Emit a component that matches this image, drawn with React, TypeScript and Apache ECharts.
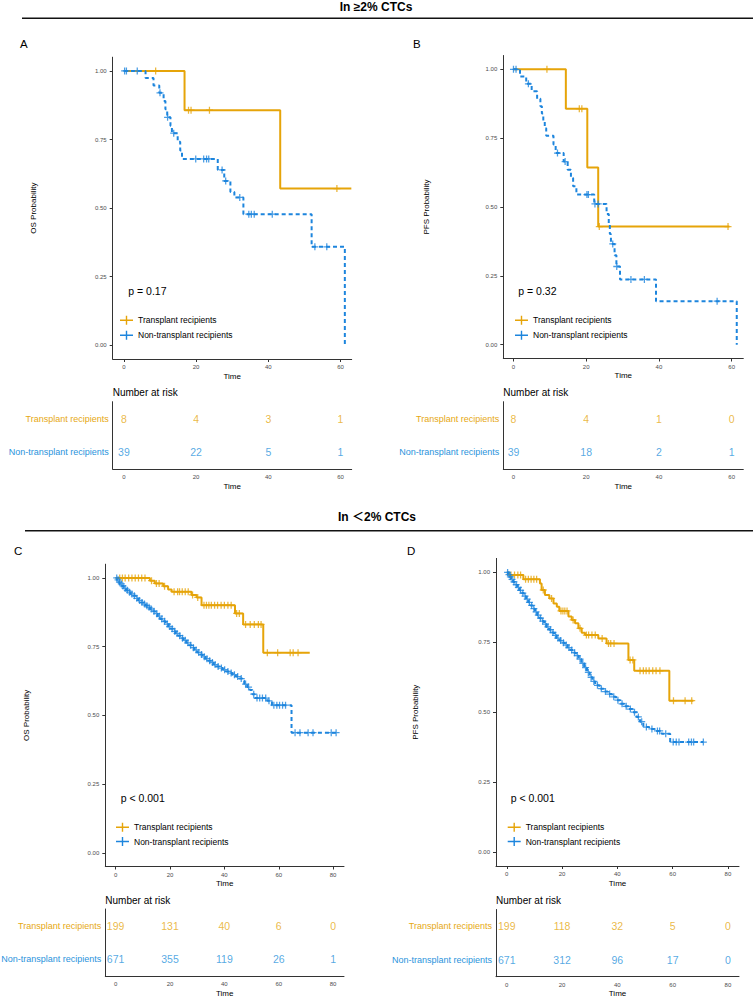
import React, { useEffect, useRef } from "react";
import * as echarts from "echarts";

const FONT = "'Liberation Sans', Arial, sans-serif";
const LINE_ORANGE = "#E6A409";
const LINE_BLUE = "#1D85DD";
const TEXT_ORANGE = "#E6A812";
const TEXT_BLUE = "#2A93DC";

const GROUPS = ["Transplant recipients", "Non-transplant recipients"];
const Y_TICKS = [0, 0.25, 0.5, 0.75, 1];
const X_TICKS_TOP = [0, 20, 40, 60];
const X_TICKS_BOTTOM = [0, 20, 40, 60, 80];

// Kaplan-Meier steps: [time, survival after the event]; censor times separately
// A: OS, >=2% CTCs
const A_TX_STEPS = [[0, 1], [16.8, 0.857], [43.3, 0.571], [63, 0.571]];
const A_TX_CENSOR = [8.8, 17.9, 18.6, 23.7, 59];
const A_NT_STEPS = [
  [0, 1], [6, 0.974], [8.2, 0.947], [9.8, 0.92], [11, 0.89], [11.5, 0.86], [12, 0.831],
  [12.9, 0.8], [13.3, 0.773], [14.9, 0.742], [15.6, 0.71], [16.1, 0.679], [26, 0.639],
  [27.8, 0.599], [29.5, 0.559], [30.6, 0.539], [33.1, 0.478], [52, 0.359], [61.2, 0],
];
const A_NT_CENSOR = [0.2, 0.7, 3.7, 10.0, 12.1, 13.8, 19.9, 22.1, 22.9, 23.5, 27.2, 28.2, 32.1, 34.6, 35.3, 36.1, 41.1, 52.9, 56.2];

// B: PFS, >=2% CTCs
const B_TX_STEPS = [[0, 1], [14.4, 0.857], [20.3, 0.643], [23.3, 0.429], [59.4, 0.429]];
const B_TX_CENSOR = [9.2, 18.1, 18.8, 23.6, 59];
const B_NT_STEPS = [
  [0, 1], [1.8, 0.974], [3.5, 0.947], [5, 0.92], [6.5, 0.893], [7.4, 0.866], [7.8, 0.839],
  [8.2, 0.812], [8.6, 0.786], [9.0, 0.759], [11, 0.727], [11.6, 0.696], [13.8, 0.665],
  [14.9, 0.635], [15.8, 0.605], [16.4, 0.575], [17.3, 0.545], [22.2, 0.511], [25.6, 0.475],
  [26.2, 0.438], [26.5, 0.402], [26.8, 0.366], [27.8, 0.325], [28.3, 0.284], [29.3, 0.237],
  [39.2, 0.158], [61.4, 0],
];
const B_NT_CENSOR = [0, 0.7, 4.1, 12.1, 14.2, 20.2, 20.6, 22.4, 23.3, 27.3, 28.4, 32.3, 36, 56];

// C: OS, <2% CTCs
const C_TX_STEPS = [
  [0, 1], [12.6, 0.99], [14.4, 0.98], [17.5, 0.97], [19.3, 0.958], [20.6, 0.95], [27.9, 0.938],
  [29.8, 0.929], [31.6, 0.901], [43.9, 0.871], [46.9, 0.831], [54.3, 0.728], [71.4, 0.728],
];
const C_TX_CENSOR = [
  1.5, 2.5, 3.5, 4.8, 6, 7.2, 8.4, 9.6, 10.8, 13.2, 15, 16, 18, 21.5, 22.8, 23.5, 24.5, 25.6,
  26.7, 28.3, 30.2, 32.5, 33.4, 34.3, 35.2, 36.4, 37.5, 38.8, 40, 41.3, 42.5, 44.5, 45.5, 47.8,
  49.5, 51, 52.5, 53.5, 55.8, 59.6, 64.2, 65.3, 67.1,
];
const C_NT_STEPS = [
  [0, 1], [0.5, 0.993], [1, 0.985], [1.5, 0.978], [2.2, 0.971], [3, 0.962], [3.8, 0.955],
  [4.6, 0.948], [5.5, 0.942], [6.5, 0.935], [7.4, 0.926], [8.3, 0.918], [9.2, 0.911],
  [10.1, 0.905], [11, 0.899], [11.8, 0.893], [12.6, 0.887], [13.5, 0.879], [14.5, 0.87],
  [15.5, 0.861], [16.4, 0.851], [17.4, 0.842], [18.4, 0.832], [19.4, 0.823], [20.3, 0.815],
  [21.2, 0.806], [22.1, 0.798], [23, 0.79], [24, 0.781], [25, 0.773], [26, 0.764], [27, 0.755],
  [28, 0.746], [29, 0.738], [30, 0.729], [31, 0.721], [32, 0.713], [33, 0.706], [34, 0.699],
  [35, 0.692], [36, 0.685], [37, 0.678], [38.2, 0.672], [39.4, 0.666], [40.6, 0.66],
  [41.8, 0.654], [43, 0.648], [44.2, 0.641], [45.5, 0.634], [46.6, 0.626], [47.3, 0.614],
  [48.4, 0.603], [49.4, 0.592], [50.3, 0.577], [51.2, 0.563], [55.8, 0.553], [57.5, 0.537],
  [64.7, 0.437], [81.8, 0.437],
];
const C_NT_CENSOR = [
  0.4, 0.9, 1.4, 2.1, 2.7, 3.5, 4.3, 5.1, 6, 6.9, 7.8, 8.8, 9.7, 10.6, 11.5, 12.3, 13.1, 14.1,
  15.1, 16.1, 17, 18, 19, 19.9, 20.8, 21.7, 22.6, 23.6, 24.6, 25.6, 26.6, 27.6, 28.6, 29.6,
  30.6, 31.6, 32.6, 33.6, 34.6, 35.6, 36.6, 37.7, 38.9, 40.1, 41.3, 42.5, 43.7, 44.9, 46.2,
  47.8, 48.9, 50.8, 52, 53, 54, 55.2, 56.4, 58.2, 59.3, 60.3, 61.4, 62.5, 66, 67.8, 70.8,
  72.6, 79.3, 81.1,
];

// D: PFS, <2% CTCs
const D_TX_STEPS = [
  [0, 1], [0.8, 0.991], [6, 0.975], [12, 0.96], [12.6, 0.937], [13.8, 0.919], [15.4, 0.907],
  [16.9, 0.889], [18.1, 0.877], [19, 0.862], [22.3, 0.842], [23.5, 0.83], [24.7, 0.818],
  [25.9, 0.8], [27.1, 0.784], [28.3, 0.776], [33.1, 0.764], [36.1, 0.746], [44, 0.687],
  [46.1, 0.648], [58.8, 0.541], [67.5, 0.541],
];
const D_TX_CENSOR = [
  1.5, 2.8, 4, 5, 6.8, 7.8, 8.8, 9.8, 10.8, 13.2, 16.2, 19.6, 20.3, 21, 21.8, 24, 26.5, 28.8,
  29.6, 30.8, 32, 34.5, 36.8, 37.6, 38.8, 44.6, 45.6, 48.2, 49.4, 50.4, 51.5, 52.8, 54, 55.4,
  60.3, 64.5, 66.9,
];
const D_NT_STEPS = [
  [0, 1], [0.5, 0.992], [1, 0.984], [1.6, 0.975], [2.3, 0.966], [3, 0.956], [3.8, 0.946],
  [4.6, 0.936], [5.4, 0.926], [6.2, 0.915], [7, 0.904], [7.8, 0.893], [8.6, 0.882],
  [9.4, 0.87], [10.2, 0.859], [11, 0.847], [11.8, 0.836], [12.6, 0.826], [13.5, 0.815],
  [14.4, 0.805], [15.3, 0.795], [16.2, 0.785], [17.1, 0.775], [18, 0.765], [19, 0.756],
  [20, 0.748], [21, 0.74], [22, 0.731], [23, 0.722], [24, 0.713], [25, 0.702], [26, 0.69],
  [27, 0.675], [28, 0.659], [29, 0.642], [30, 0.625], [31, 0.61], [32, 0.596], [33.5, 0.584],
  [35, 0.574], [36.5, 0.565], [38, 0.555], [39.5, 0.543], [41, 0.53], [42.5, 0.521],
  [44, 0.511], [45.5, 0.5], [47, 0.483], [48.2, 0.466], [49.4, 0.447], [51.5, 0.44],
  [53.5, 0.433], [56, 0.423], [59.1, 0.393], [71.1, 0.393],
];
const D_NT_CENSOR = [
  0.3, 0.8, 1.3, 1.9, 2.6, 3.4, 4.2, 5, 5.8, 6.6, 7.4, 8.2, 9, 9.8, 10.6, 11.4, 12.2, 13, 14,
  14.9, 15.8, 16.7, 17.6, 18.5, 19.5, 20.5, 21.5, 22.5, 23.5, 24.5, 25.5, 26.5, 27.5, 28.5,
  29.5, 30.5, 31.5, 32.8, 34.2, 35.7, 37.2, 38.7, 40.2, 41.7, 43.2, 44.7, 46.2, 47.6, 48.8,
  50.5, 52.5, 54.5, 55.3, 57.5, 60.2, 61.3, 62.3, 65.8, 66.8, 67.6, 71.1,
];

// Number at risk
const RISK_TIMES_TOP = [0, 20, 40, 60];
const RISK_TIMES_BOTTOM = [0, 20, 40, 60, 80];
const A_RISK_TX = [8, 4, 3, 1];
const A_RISK_NT = [39, 22, 5, 1];
const B_RISK_TX = [8, 4, 1, 0];
const B_RISK_NT = [39, 18, 2, 1];
const C_RISK_TX = [199, 131, 40, 6, 0];
const C_RISK_NT = [671, 355, 119, 26, 1];
const D_RISK_TX = [199, 118, 32, 5, 0];
const D_RISK_NT = [671, 312, 96, 17, 0];

const PLUS = "path://M0,4.1H10V5.9H0Z M4.1,0H5.9V10H4.1Z";
const LEGEND_ICON = "path://M0,4.3H13V5.7H0Z M5.8,0.5H7.2V9.5H5.8Z";

const PANELS = [
  {
    letter: "A", yName: "OS Probability", pText: "p = 0.17", xTicks: X_TICKS_TOP, riskTimes: RISK_TIMES_TOP,
    tx: A_TX_STEPS, txCensor: A_TX_CENSOR, nt: A_NT_STEPS, ntCensor: A_NT_CENSOR,
    riskTx: A_RISK_TX, riskNt: A_RISK_NT,
    km: [112.7, 57.2, 239, 301.8], xRange: [-3.1, 63.1], risk: [112.7, 401.7, 239, 67.3],
    letterPos: [20, 44], pPos: [128.3, 290.7], legendPos: [120, 315.7], legendGap: 6,
    narPos: [112.7, 392.7], yNameGap: 75.5,
  },
  {
    letter: "B", yName: "PFS Probability", pText: "p = 0.32", xTicks: X_TICKS_TOP, riskTimes: RISK_TIMES_TOP,
    tx: B_TX_STEPS, txCensor: B_TX_CENSOR, nt: B_NT_STEPS, ntCensor: B_NT_CENSOR,
    riskTx: B_RISK_TX, riskNt: B_RISK_NT,
    km: [503.3, 55.5, 240, 303], xRange: [-2.8, 63.2], risk: [503.3, 401.7, 240, 67.3],
    letterPos: [413, 44], pPos: [518.3, 290.7], legendPos: [515, 315.7], legendGap: 6,
    narPos: [503.3, 392.7], yNameGap: 73,
  },
  {
    letter: "C", yName: "OS Probability", pText: "p < 0.001", xTicks: X_TICKS_BOTTOM, riskTimes: RISK_TIMES_BOTTOM,
    tx: C_TX_STEPS, txCensor: C_TX_CENSOR, nt: C_NT_STEPS, ntCensor: C_NT_CENSOR,
    riskTx: C_RISK_TX, riskNt: C_RISK_NT,
    km: [105.3, 564.2, 238.7, 302.3], xRange: [-3.8, 84], risk: [105.3, 909, 238.7, 67],
    letterPos: [14, 550.7], pPos: [120.7, 797.7], legendPos: [116, 822.7], legendGap: 5.3,
    narPos: [105.3, 900], yNameGap: 75,
  },
  {
    letter: "D", yName: "PFS Probability", pText: "p < 0.001", xTicks: X_TICKS_BOTTOM, riskTimes: RISK_TIMES_BOTTOM,
    tx: D_TX_STEPS, txCensor: D_TX_CENSOR, nt: D_NT_STEPS, ntCensor: D_NT_CENSOR,
    riskTx: D_RISK_TX, riskNt: D_RISK_NT,
    km: [496, 558.4, 243, 307.6], xRange: [-3.9, 84], risk: [496, 909.5, 243, 67.2],
    letterPos: [407, 551], pPos: [510.7, 797.7], legendPos: [507.7, 822.7], legendGap: 5.3,
    narPos: [496, 900], yNameGap: 77,
  },
];

function survivalAt(steps: number[][], t: number): number {
  let s = steps[0][1];
  for (const [time, value] of steps) {
    if (time <= t) s = value;
    else break;
  }
  return s;
}

function text(x: number, y: number, str: string, size: number, opts: any = {}) {
  const align = opts.align || "left";
  return {
    type: "text",
    x,
    y,
    silent: true,
    style: {
      text: str,
      fill: opts.color || "#000",
      fontSize: size,
      fontWeight: opts.bold ? "bold" : "normal",
      fontFamily: opts.family || FONT,
      textAlign: align,
      textVerticalAlign: "middle",
      align,
      verticalAlign: "middle",
    },
  };
}

function hline(x1: number, x2: number, y: number) {
  return {
    type: "line",
    silent: true,
    shape: { x1, y1: y, x2, y2: y },
    style: { stroke: "#111", lineWidth: 1.5 },
  };
}

function buildOption() {
  const grid: any[] = [];
  const xAxis: any[] = [];
  const yAxis: any[] = [];
  const series: any[] = [];
  const legend: any[] = [];
  const graphic: any[] = [];

  const axisLine = { show: true, onZero: false, lineStyle: { color: "#333", width: 1 } };

  PANELS.forEach((p, i) => {
    const kmIdx = i * 2;
    const rkIdx = i * 2 + 1;

    grid.push({ left: p.km[0], top: p.km[1], width: p.km[2], height: p.km[3], containLabel: false, outerBoundsMode: "none" });
    grid.push({ left: p.risk[0], top: p.risk[1], width: p.risk[2], height: p.risk[3], containLabel: false, outerBoundsMode: "none" });

    // survival plot axes
    xAxis.push({
      gridIndex: kmIdx, type: "value", min: p.xRange[0], max: p.xRange[1],
      axisLine, splitLine: { show: false },
      axisTick: { show: true, length: 3, customValues: p.xTicks, lineStyle: { color: "#333" } },
      axisLabel: { customValues: p.xTicks, fontSize: 6, color: "#4D4D4D", margin: 5, fontFamily: FONT },
      name: "Time", nameLocation: "middle", nameGap: 13,
      nameTextStyle: { fontSize: 8, color: "#000", fontFamily: FONT },
    });
    yAxis.push({
      gridIndex: kmIdx, type: "value", min: -0.05, max: 1.05,
      axisLine, splitLine: { show: false },
      axisTick: { show: true, length: 3, customValues: Y_TICKS, lineStyle: { color: "#333" } },
      axisLabel: {
        customValues: Y_TICKS, fontSize: 6, color: "#4D4D4D", margin: 6, fontFamily: FONT,
        formatter: (v: number) => v.toFixed(2),
      },
      name: p.yName, nameLocation: "middle", nameGap: p.yNameGap,
      nameTextStyle: { fontSize: 8, color: "#000", fontFamily: FONT },
    });

    // risk table axes
    xAxis.push({
      gridIndex: rkIdx, type: "value", min: p.xRange[0], max: p.xRange[1],
      axisLine, splitLine: { show: false },
      axisTick: { show: false },
      axisLabel: { customValues: p.xTicks, fontSize: 6, color: "#4D4D4D", margin: 5, fontFamily: FONT },
      name: "Time", nameLocation: "middle", nameGap: 13,
      nameTextStyle: { fontSize: 8, color: "#000", fontFamily: FONT },
    });
    yAxis.push({
      gridIndex: rkIdx, type: "category", boundaryGap: true,
      data: [
        { value: GROUPS[1], textStyle: { color: TEXT_BLUE } },
        { value: GROUPS[0], textStyle: { color: TEXT_ORANGE } },
      ],
      axisLine, axisTick: { show: false }, splitLine: { show: false },
      axisLabel: { fontSize: 9, margin: 4, fontFamily: FONT },
    });

    const curves = [
      { name: GROUPS[0], steps: p.tx, censor: p.txCensor, color: LINE_ORANGE, dash: "solid" as any },
      { name: GROUPS[1], steps: p.nt, censor: p.ntCensor, color: LINE_BLUE, dash: [4, 3] as any },
    ];
    curves.forEach((c) => {
      series.push({
        type: "line", name: c.name, xAxisIndex: kmIdx, yAxisIndex: kmIdx,
        data: c.steps, step: "end", symbol: "none", showSymbol: false,
        lineStyle: { color: c.color, width: 2, type: c.dash },
        itemStyle: { color: c.color }, z: 3, silent: true,
      });
      series.push({
        type: "scatter", name: c.name + " (censored)", xAxisIndex: kmIdx, yAxisIndex: kmIdx,
        data: c.censor.map((t) => [t, survivalAt(c.steps, t)]),
        symbol: PLUS, symbolSize: 7, itemStyle: { color: c.color }, z: 4, silent: true,
      });
    });

    const rows = [
      { counts: p.riskTx, row: 1, color: TEXT_ORANGE, name: GROUPS[0] + " at risk" },
      { counts: p.riskNt, row: 0, color: TEXT_BLUE, name: GROUPS[1] + " at risk" },
    ];
    rows.forEach((r) => {
      series.push({
        type: "scatter", name: r.name, xAxisIndex: rkIdx, yAxisIndex: rkIdx,
        data: p.riskTimes.map((t, j) => [t, r.row, r.counts[j]]),
        symbolSize: 1, itemStyle: { color: "transparent" }, silent: true,
        label: {
          show: true, position: "inside", color: r.color, fontSize: 10.5, fontFamily: FONT,
          formatter: (prm: any) => String(prm.value[2]),
        },
      });
    });

    legend.push({
      orient: "vertical", left: p.legendPos[0], top: p.legendPos[1],
      itemWidth: 13, itemHeight: 10, itemGap: p.legendGap, selectedMode: false, padding: 0,
      icon: LEGEND_ICON,
      textStyle: { fontSize: 8.5, color: "#000", fontFamily: FONT },
      data: [
        { name: GROUPS[0], icon: LEGEND_ICON, itemStyle: { color: LINE_ORANGE } },
        { name: GROUPS[1], icon: LEGEND_ICON, itemStyle: { color: LINE_BLUE } },
      ],
    });

    graphic.push(text(p.letterPos[0], p.letterPos[1], p.letter, 11.5));
    graphic.push(text(p.pPos[0], p.pPos[1], p.pText, 10.5));
    graphic.push(text(p.narPos[0], p.narPos[1], "Number at risk", 10));
  });

  graphic.push(text(376, 6.7, "In ≥2% CTCs", 12, { bold: true, align: "center" }));
  graphic.push(hline(22, 753, 18.3));
  graphic.push(text(377, 517, "In ＜2% CTCs", 12, { bold: true, align: "center", family: "'Liberation Sans', 'Noto Sans CJK SC', sans-serif" }));
  graphic.push(hline(25, 753, 530.7));

  return {
    animation: false,
    backgroundColor: "#ffffff",
    textStyle: { fontFamily: FONT },
    grid, xAxis, yAxis, series, legend, graphic,
  };
}

export default function App() {
  const ref = useRef<HTMLDivElement>(null);
  useEffect(() => {
    if (!ref.current) return;
    const chart = echarts.init(ref.current, undefined, { renderer: "svg" });
    chart.setOption(buildOption() as any);
    return () => chart.dispose();
  }, []);
  return (
    <div
      ref={ref}
      style={{ position: "absolute", left: 0, top: 0, width: 753, height: 1000, background: "#fff" }}
    />
  );
}
